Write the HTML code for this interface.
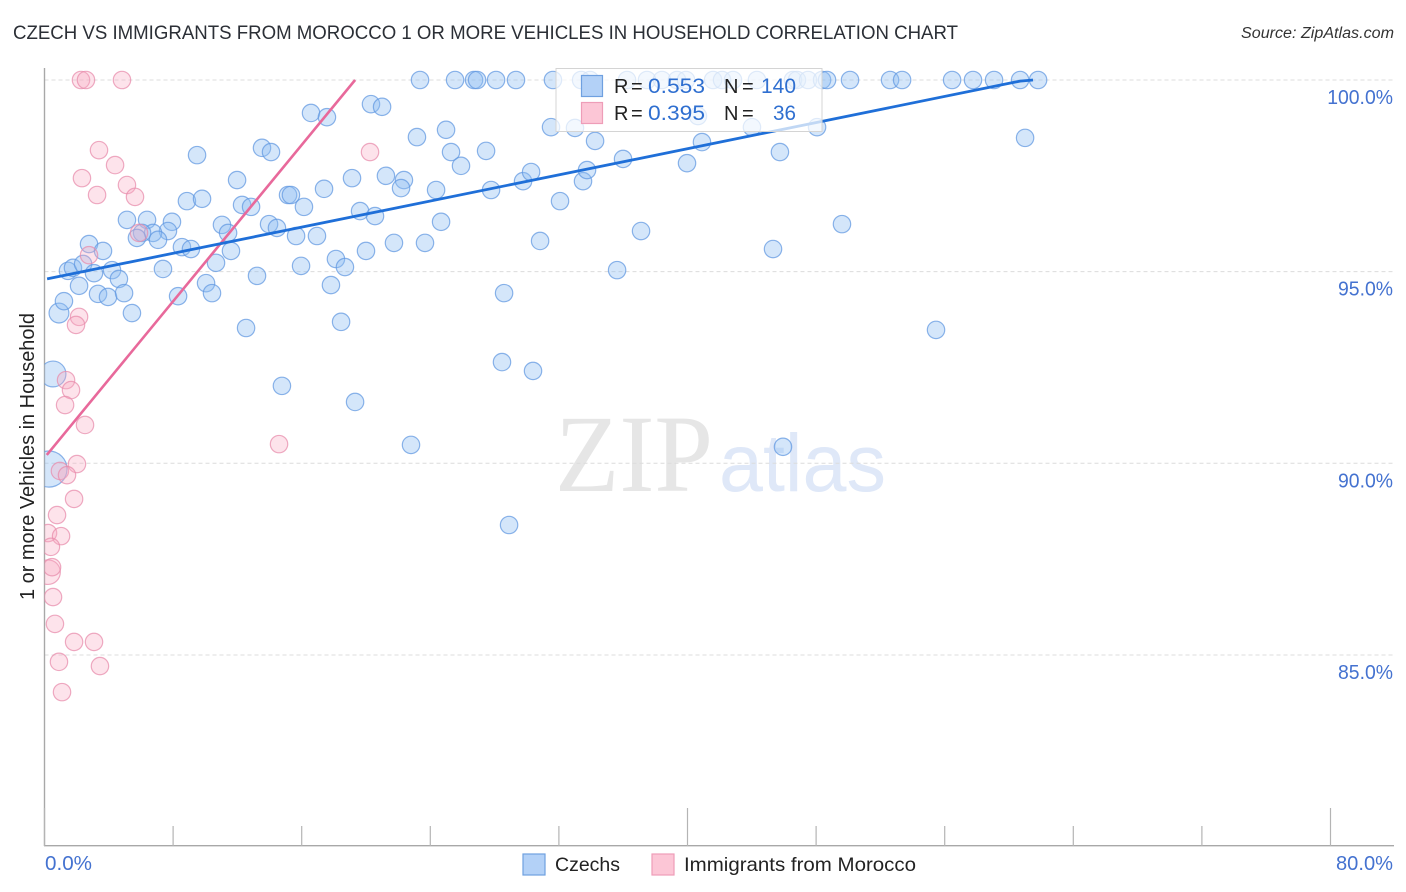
<!DOCTYPE html>
<html lang="en">
<head>
<meta charset="utf-8">
<title>Czech vs Immigrants from Morocco 1 or More Vehicles in Household Correlation Chart</title>
<style>
html,body{margin:0;padding:0;background:#fff;width:1406px;height:892px;overflow:hidden}
svg{display:block;font-family:"Liberation Sans",Arial,sans-serif}
</style>
</head>
<body>
<svg id="chart" width="1406" height="892" viewBox="0 0 1406 892" xmlns="http://www.w3.org/2000/svg">
  <defs>
    <clipPath id="plot-clip"><rect x="44.5" y="60" width="1350" height="786"/></clipPath>
  </defs>
  <rect width="1406" height="892" fill="#fff"/>
  <text x="13" y="39" font-size="19.5" fill="#2b2f36" textLength="945" lengthAdjust="spacingAndGlyphs">CZECH VS IMMIGRANTS FROM MOROCCO 1 OR MORE VEHICLES IN HOUSEHOLD CORRELATION CHART</text>
  <text x="1241" y="38" font-size="15.5" font-style="italic" fill="#333" textLength="153" lengthAdjust="spacingAndGlyphs">Source: ZipAtlas.com</text>

  <g>
    <text x="555" y="491" font-family="'Liberation Serif',serif" font-size="110" fill="#e6e6e6" textLength="158" lengthAdjust="spacingAndGlyphs">ZIP</text>
    <text x="719" y="491" font-family="'Liberation Sans',sans-serif" font-size="82" fill="#dfe8f8" textLength="167" lengthAdjust="spacingAndGlyphs">atlas</text>
  </g>

  <g id="grid"></g>
  <g id="axes"></g>
  <text transform="translate(34,600) rotate(-90)" font-size="20" fill="#222" textLength="287" lengthAdjust="spacingAndGlyphs">1 or more Vehicles in Household</text>

  <g id="czech-points" clip-path="url(#plot-clip)"></g>
  <g id="morocco-points" clip-path="url(#plot-clip)"></g>
  <g id="trends"></g>

  <g>
    <rect x="556" y="68.5" width="266" height="63" fill="#fff" fill-opacity="0.72" stroke="#d4d4d4" stroke-width="1"/>
    <rect x="581.5" y="75.5" width="21" height="21" fill="#b3d1f7" stroke="#6fa0e0" stroke-width="1.2"/>
    <rect x="581.5" y="102.5" width="21" height="21" fill="#fcc6d6" stroke="#ee9db8" stroke-width="1.2"/>
    <text x="614" y="93" font-size="20" word-spacing="-3" fill="#222">R =</text>
    <text x="648" y="93" font-size="21.5" fill="#2f6fd0" textLength="57" lengthAdjust="spacingAndGlyphs">0.553</text>
    <text x="724" y="93" font-size="20" word-spacing="-2" fill="#222">N =</text>
    <text x="761" y="93" font-size="21.5" fill="#2f6fd0" textLength="35" lengthAdjust="spacingAndGlyphs">140</text>
    <text x="614" y="120" font-size="20" word-spacing="-3" fill="#222">R =</text>
    <text x="648" y="120" font-size="21.5" fill="#2f6fd0" textLength="57" lengthAdjust="spacingAndGlyphs">0.395</text>
    <text x="724" y="120" font-size="20" word-spacing="-2" fill="#222">N =</text>
    <text x="773" y="120" font-size="21.5" fill="#2f6fd0" textLength="23" lengthAdjust="spacingAndGlyphs">36</text>
  </g>

  <g>
    <rect x="523" y="854" width="22" height="21" fill="#b3d1f7" stroke="#6fa0e0" stroke-width="1.2"/>
    <text x="555" y="871" font-size="19.5" fill="#222" textLength="65" lengthAdjust="spacingAndGlyphs">Czechs</text>
    <rect x="652" y="854" width="22" height="21" fill="#fcc6d6" stroke="#ee9db8" stroke-width="1.2"/>
    <text x="684" y="871" font-size="19.5" fill="#222" textLength="232" lengthAdjust="spacingAndGlyphs">Immigrants from Morocco</text>
  </g>
</svg>

<script>
const yTickValues = [100, 95, 90, 85];
const yTickLabels = ["100.0%", "95.0%", "90.0%", "85.0%"];
const xTickValues = [0, 8, 16, 24, 32, 40, 48, 56, 64, 72, 80];
const xMajorTicks = [0, 40, 80];
const xEndLabels = ["0.0%", "80.0%"];

const czechX = [0.28,0.53,0.90,
23.36,25.54,26.72,26.91,28.09,29.33,31.63,33.38,33.94,36.24,37.48,38.41,39.35,39.91,41.59,42.15,42.83,44.32,46.56,46.81,47.50,48.37,48.68,50.11,52.60,53.35,56.46,57.76,59.07,60.69,61.81,
16.58,17.57,20.31,21.00,23.17,24.98,25.29,25.91,9.49,13.53,14.09,11.98,17.39,19.13,21.24,22.36,22.18,24.36,15.15,15.33,8.86,9.80,12.29,12.85,16.14,
5.13,6.38,7.93,7.68,6.75,6.07,5.75,7.06,11.04,11.42,13.97,14.46,15.65,16.95,19.63,20.56,24.67,21.74,23.67,20.00,8.55,9.11,11.60,2.77,3.64,10.67,18.13,18.69,15.96,7.37,13.22,17.82,
1.46,1.77,2.40,3.08,4.20,4.63,2.15,3.33,3.95,4.95,8.31,10.05,10.42,1.21,5.44,12.54,18.45,14.77,19.32,22.80,28.46,30.39,28.90,45.94,55.46,35.62,28.59,45.32,49.61,37.11,30.83,32.07,33.50,33.75,29.77,30.27,27.78,61.00,45.75,48.06,44.01,40.90,39.97,35.99,34.25,33.00,31.51,27.47,40.65];
const czechY = [89.85,92.33,93.92,
100,100,100,100,100,100,100,100,100,100,100,100,100,100,100,100,100,100,100,100,100,100,100,100,100,100,100,100,100,100,100,
99.14,99.03,99.37,99.30,98.51,98.70,98.12,97.76,98.04,98.23,98.12,97.39,97.16,97.44,97.50,97.39,97.18,97.13,97.00,97.00,96.84,96.90,96.74,96.69,96.69,
96.35,96.35,96.30,96.06,96.01,96.01,95.88,95.83,96.22,96.01,96.24,96.14,95.93,95.93,96.58,96.45,96.30,95.75,95.75,95.54,95.64,95.59,95.54,95.72,95.54,95.23,95.33,95.12,95.15,95.07,94.89,94.65,
95.02,95.10,95.20,94.96,95.04,94.81,94.63,94.42,94.34,94.44,94.36,94.70,94.44,94.23,93.92,93.53,93.69,92.02,91.60,90.48,92.64,92.41,88.39,90.43,93.48,95.04,94.44,95.59,96.24,96.06,95.80,96.84,97.36,97.65,97.36,97.60,97.13,98.49,98.12,98.77,98.77,98.38,97.83,97.94,98.41,98.75,98.77,98.15,99.06];
const czechWeights = [4.3, 2.2, 1.3];

const moroccoX = [0.22,
2.27,2.58,4.82,3.39,4.39,2.33,5.13,3.27,5.63,20.25,5.88,2.77,2.15,1.96,1.34,1.65,1.28,2.52,14.59,2.02,0.96,1.40,1.84,0.78,0.22,1.03,0.40,0.47,0.53,0.65,1.84,3.08,0.90,3.45,1.09];
const moroccoY = [87.16,
100,100,100,98.17,97.78,97.44,97.26,97.00,96.95,98.12,96.01,95.43,93.82,93.61,92.17,91.91,91.52,91.00,90.50,89.98,89.80,89.69,89.07,88.65,88.18,88.10,87.82,87.29,86.51,85.81,85.34,85.34,84.82,84.71,84.03];
const moroccoWeights = [2.0];

const czechTrendX = [0.16, 60.69, 61.49];
const czechTrendY = [94.81, 99.97, 100];
const moroccoTrendX = [0.14, 19.32];
const moroccoTrendY = [90.22, 100];

const SVG_NS = "http://www.w3.org/2000/svg";
function xScale(v) { return 44.5 + v * 16.075; }
function yScale(v) { return 80 + (100 - v) * 38.33; }
function radiusFor(weight) { return 8.7 * Math.sqrt(weight); }
function make(tag, attrs, parent) {
  const el = document.createElementNS(SVG_NS, tag);
  Object.keys(attrs).forEach(function (k) { el.setAttribute(k, attrs[k]); });
  parent.appendChild(el);
  return el;
}

const gridGroup = document.getElementById("grid");
const axesGroup = document.getElementById("axes");

yTickValues.forEach(function (v, i) {
  const line = make("line", { x1: 44.5, x2: 1394, y1: yScale(v), y2: yScale(v), stroke: "#dcdcdc", "stroke-width": 1, "stroke-dasharray": "4 3" }, gridGroup);
  
  
  const label = make("text", { x: 1393, y: yScale(v) + 24, "font-size": 20, fill: "#4472d0", "text-anchor": "end" }, axesGroup);
  label.textContent = yTickLabels[i];
  
  
  label.setAttribute("textLength", (label.getComputedTextLength() * 0.97).toFixed(1));
  label.setAttribute("lengthAdjust", "spacingAndGlyphs");
});

const yAxis = make("line", { x1: 44.5, x2: 44.5, y1: 68, y2: 846, stroke: "#a8a8a8", "stroke-width": 1.4 }, axesGroup);


const xAxis = make("line", { x1: 44, x2: 1394, y1: 845.7, y2: 845.7, stroke: "#a8a8a8", "stroke-width": 1.4 }, axesGroup);



xTickValues.forEach(function (v) {
  const top = xMajorTicks.indexOf(v) >= 0 ? 808 : 826;
  const tick = make("line", { x1: xScale(v), x2: xScale(v), y1: top, y2: 846, stroke: "#b4b4b4", "stroke-width": 1.2 }, axesGroup);
  
  
});

const xLabelStart = make("text", { x: 45, y: 870, "font-size": 20, fill: "#4472d0" }, axesGroup);
xLabelStart.textContent = xEndLabels[0];


xLabelStart.setAttribute("textLength", "47");
xLabelStart.setAttribute("lengthAdjust", "spacingAndGlyphs");
const xLabelEnd = make("text", { x: 1393, y: 870, "font-size": 20, fill: "#4472d0", "text-anchor": "end" }, axesGroup);
xLabelEnd.textContent = xEndLabels[1];


xLabelEnd.setAttribute("textLength", "57");
xLabelEnd.setAttribute("lengthAdjust", "spacingAndGlyphs");

const czechGroup = document.getElementById("czech-points");
czechX.forEach(function (v, i) {
  const w = czechWeights[i] || 1;
  const c = make("circle", { cx: xScale(v), cy: yScale(czechY[i]), r: radiusFor(w), fill: "#8dbcf2", "fill-opacity": 0.38, stroke: "#5f97e0", "stroke-opacity": 0.72, "stroke-width": 1.2 }, czechGroup);
  
  
});

const moroccoGroup = document.getElementById("morocco-points");
moroccoX.forEach(function (v, i) {
  const w = moroccoWeights[i] || 1;
  const c = make("circle", { cx: xScale(v), cy: yScale(moroccoY[i]), r: radiusFor(w), fill: "#f9a9c2", "fill-opacity": 0.33, stroke: "#e88aaa", "stroke-opacity": 0.72, "stroke-width": 1.2 }, moroccoGroup);
  
  
});

function pathFrom(xs, ys) {
  return xs.map(function (v, i) { return (i ? "L" : "M") + xScale(v).toFixed(1) + " " + yScale(ys[i]).toFixed(1); }).join(" ");
}
const trendGroup = document.getElementById("trends");
const moroccoTrend = make("path", { d: pathFrom(moroccoTrendX, moroccoTrendY), fill: "none", stroke: "#e8699b", "stroke-width": 2.6 }, trendGroup);


const czechTrend = make("path", { d: pathFrom(czechTrendX, czechTrendY), fill: "none", stroke: "#1f6fd8", "stroke-width": 2.8 }, trendGroup);


</script>
</body>
</html>
